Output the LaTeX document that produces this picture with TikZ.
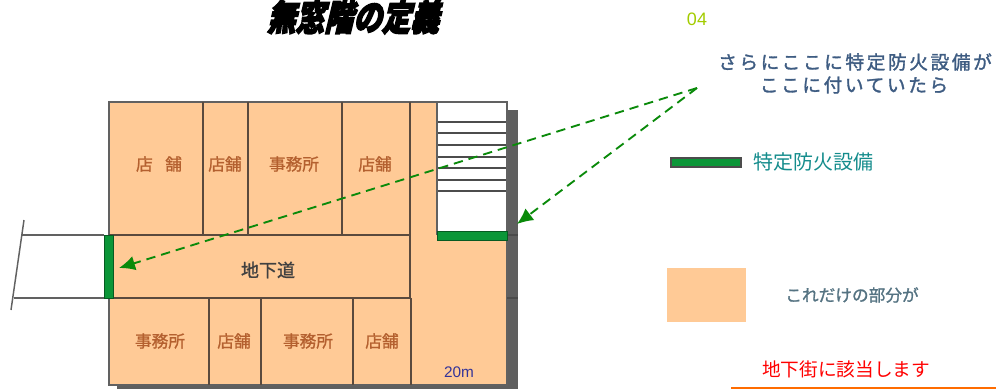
\documentclass[tikz,border=0pt]{standalone}
\usepackage{fontspec}
\setmainfont{Noto Sans CJK JP}
\newfontfamily\jptitle[FakeSlant=0.3,FakeBold=4]{Noto Sans CJK JP Black}
\newfontfamily\jpbold[FakeBold=1.2]{Noto Sans CJK JP}
\newfontfamily\jpspaced[FakeBold=1.6,LetterSpace=14]{Noto Sans CJK JP}
\newfontfamily\latinsans{Liberation Sans}
\usetikzlibrary{arrows.meta}
\definecolor{roomfill}{HTML}{FFCA96}
\definecolor{wall}{HTML}{5A4A3E}
\definecolor{shadowgray}{HTML}{5F5F5F}
\definecolor{firegreen}{HTML}{0B9638}
\definecolor{arrowgreen}{HTML}{0A8A0A}
\definecolor{roomtext}{HTML}{B4602F}
\newcommand{\fs}[1]{\fontsize{#1}{#1}\selectfont}
\tikzset{
  x=0.75pt,y=-0.75pt,
  wallline/.style={draw=wall,line width=1.2pt},
  greyline/.style={draw=black!62,line width=1.1pt},
  stepline/.style={draw=black!70,line width=0.8pt},
  firebar/.style={fill=firegreen,draw=firegreen!60!black,line width=0.4pt},
  roomlabel/.style={text=roomtext,font=\jpbold\fs{12.5},inner sep=0pt},
  arrowline/.style={draw=arrowgreen,line width=1.4pt,dash pattern=on 7pt off 4.5pt,-{Latex[length=12pt,width=11pt]}},
}
\begin{document}
\begin{tikzpicture}
\useasboundingbox (0,0) rectangle (996,389);
% shadow
\fill[shadowgray] (507,110) rectangle (518,389);
\fill[shadowgray] (117,385) rectangle (518,388.5);
% building
\fill[roomfill] (109,102) rectangle (507,385);
\fill[white] (437,102) rectangle (507,235);
\draw[stepline] (437,122) -- (507,122);
\draw[stepline] (437,133) -- (507,133);
\draw[stepline] (437,145) -- (507,145);
\draw[stepline] (437,157) -- (507,157);
\draw[stepline] (437,168) -- (507,168);
\draw[stepline] (437,180) -- (507,180);
\draw[stepline] (437,191) -- (507,191);
\draw[greyline] (109,385) -- (109,102) -- (507,102) -- (507,385) -- cycle;
\draw[wallline] (109,235) -- (410,235);
\draw[wallline] (109,298) -- (411,298);
\draw[wallline] (203,102) -- (203,235);
\draw[wallline] (248,102) -- (248,235);
\draw[wallline] (342,102) -- (342,235);
\draw[wallline] (410,102) -- (410,298);
\draw[wallline] (209,298) -- (209,385);
\draw[wallline] (261,298) -- (261,385);
\draw[wallline] (353,298) -- (353,385);
\draw[wallline] (411,298) -- (411,385);
\draw[greyline] (437,102) -- (437,235);
\draw[draw=black!70,line width=1pt] (507,235) -- (518,235);
\draw[draw=black!70,line width=1pt] (507,298) -- (518,298);
% outside passage
\draw[greyline] (22,235) -- (104,235);
\draw[greyline] (14,298) -- (104,298);
\draw[greyline] (24,220) -- (11,310);
% fire equipment
\fill[firebar] (104,235) rectangle (113,298);
\fill[firebar] (437,231) rectangle (507,240);
% labels
\node[roomlabel] (r1) at (159,164) {店\hspace{0.75em}舗};
\node[roomlabel] (r2) at (225,164) {店舗};
\node[roomlabel] (r3) at (294,164) {事務所};
\node[roomlabel] (r4) at (375,164) {店舗};
\node[roomlabel] (r5) at (160,341) {事務所};
\node[roomlabel] (r6) at (234,341) {店舗};
\node[roomlabel] (r7) at (308,341) {事務所};
\node[roomlabel] (r8) at (382,341) {店舗};
\node[text=black!75,font=\jpbold\fs{13.5},inner sep=0pt] (road) at (268,270) {地下道};
\node[text=blue!50!black!80,font=\latinsans\fs{11.5},inner sep=0pt] (dist) at (459,372) {20m};
% title etc.
\node[font=\jptitle\fs{21.5},inner sep=0pt,yscale=1.25,transform shape] (title) at (353,17) {無窓階の定義};
\node[text={rgb,255:red,163;green,204;blue,0},font=\latinsans\fs{13.5},inner sep=0pt] (page) at (697,19) {04};
\node[text={rgb,255:red,62;green,92;blue,130},font=\jpspaced\fs{14},inner sep=0pt] (note) at (855,62) {さらにここに特定防火設備が};
\node[text={rgb,255:red,62;green,92;blue,130},font=\jpspaced\fs{14},inner sep=0pt] (note2) at (854,85) {ここに付いていたら};
\fill[firebar,draw=black!70,line width=0.8pt] (671,158) rectangle (741,167);
\node[text={rgb,255:red,20;green,140;blue,140},font=\fs{15},inner sep=0pt,anchor=west] (legend) at (753,162) {特定防火設備};
\fill[roomfill] (667,268) rectangle (746,322);
\node[text={rgb,255:red,85;green,115;blue,130},font=\jpbold\fs{12.5},inner sep=0pt] (part) at (852,295) {これだけの部分が};
\node[text=red,font=\fs{14},inner sep=0pt] (under) at (846,369) {地下街に該当します};
\fill[orange!85!red] (731,386.5) rectangle (996,389);
% arrows
\coordinate (src) at (697,88);
\coordinate (t1) at (119,268);
\coordinate (t2) at (517,224);
\draw[arrowline] (src) -- (t1);
\draw[arrowline] (src) -- (t2);
\end{tikzpicture}
\end{document}
